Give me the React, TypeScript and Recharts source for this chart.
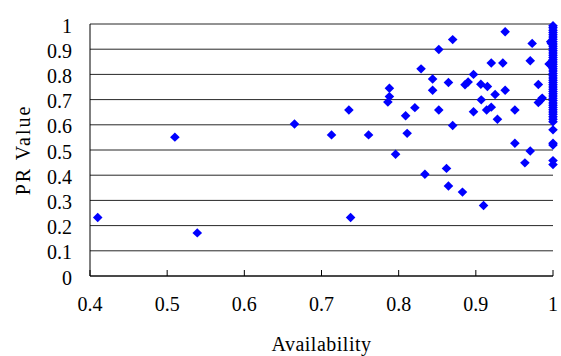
import React from 'react';
import { ScatterChart, Scatter, XAxis, YAxis, CartesianGrid, Label } from 'recharts';

const xTicks = [0.4, 0.5, 0.6, 0.7, 0.8, 0.9, 1];
const xTickLabels = ['0.4', '0.5', '0.6', '0.7', '0.8', '0.9', '1'];
const yTicks = [0, 0.1, 0.2, 0.3, 0.4, 0.5, 0.6, 0.7, 0.8, 0.9, 1];
const yTickLabels = ['0', '0.1', '0.2', '0.3', '0.4', '0.5', '0.6', '0.7', '0.8', '0.9', '1'];

const xTitle = 'Availability';
const yTitle = 'PR Value';

const availability = [
  0.41, 0.51, 0.539, 0.665, 0.713, 0.7355, 0.7377, 0.761, 0.788, 0.788,
  0.786, 0.796, 0.809, 0.811, 0.821, 0.829, 0.834, 0.844, 0.844, 0.852,
  0.852, 0.862, 0.8645, 0.8645, 0.87, 0.87, 0.8827, 0.886, 0.89, 0.897,
  0.897, 0.9065, 0.907, 0.91, 0.915, 0.914, 0.92, 0.92, 0.925, 0.928,
  0.935, 0.938, 0.938, 0.9506, 0.9506, 0.9636, 0.9705, 0.9705, 0.973, 0.981,
  0.981, 0.9835, 0.986, 0.995, 0.998, 0.997, 0.996,
  1, 1, 1, 1, 1, 1, 1, 1, 1, 1,
  1, 1, 1, 1, 1, 1, 1, 1, 1, 1,
  1, 1, 1, 1, 1, 1, 1, 1, 1, 1,
  1, 1, 1, 1, 1, 1, 1, 1, 1, 1,
  1, 1, 1, 1,
];

const prValue = [
  0.232, 0.551, 0.171, 0.603, 0.56, 0.659, 0.232, 0.56, 0.745, 0.712,
  0.69, 0.483, 0.636, 0.566, 0.668, 0.822, 0.404, 0.782, 0.737, 0.899,
  0.659, 0.427, 0.768, 0.357, 0.938, 0.597, 0.333, 0.759, 0.77, 0.8,
  0.652, 0.761, 0.699, 0.28, 0.752, 0.659, 0.67, 0.845, 0.72, 0.622,
  0.845, 0.969, 0.737, 0.659, 0.527, 0.449, 0.496, 0.854, 0.923, 0.76,
  0.688, 0.696, 0.706, 0.841, 0.923, 0.93, 0.84,
  0.993, 0.985, 0.975, 0.966, 0.957, 0.948, 0.939, 0.93, 0.921, 0.912,
  0.903, 0.894, 0.885, 0.876, 0.867, 0.858, 0.849, 0.84, 0.831, 0.822,
  0.813, 0.804, 0.795, 0.786, 0.777, 0.768, 0.759, 0.75, 0.741, 0.732,
  0.723, 0.714, 0.705, 0.696, 0.687, 0.678, 0.669, 0.66, 0.651, 0.642,
  0.632, 0.622, 0.612, 0.58,
];

const extraAvailability = [1, 1, 1, 1];
const extraPrValue = [0.527, 0.52, 0.458, 0.442];

const data = [
  ...availability.map((a, i) => ({ x: a, y: prValue[i] })),
  ...extraAvailability.map((a, i) => ({ x: a, y: extraPrValue[i] })),
];

const FONT = "'Liberation Serif', 'Times New Roman', 'DejaVu Serif', serif";
const textStyle = { fontFamily: FONT, fontSize: 20 };
const X_TICK_MARGIN = 20;

const Diamond = (props: any) => {
  const { cx, cy } = props;
  if (cx == null || cy == null) return null;
  const rx = 4.8;
  const ry = 4.7;
  return (
    <polygon
      points={`${cx},${cy - ry} ${cx + rx},${cy} ${cx},${cy + ry} ${cx - rx},${cy}`}
      fill="#0000FF"
    />
  );
};

const XTick = (props: any) => {
  const { x, y, payload } = props;
  const idx = xTicks.indexOf(payload.value);
  const label = idx >= 0 ? xTickLabels[idx] : String(payload.value);
  const axisY = y - X_TICK_MARGIN;
  return (
    <g>
      <line x1={x} x2={x} y1={axisY} y2={axisY - 6} stroke="#000" strokeWidth={1} />
      <text x={x} y={y + 14.5} textAnchor="middle" style={textStyle} fill="#000">
        {label}
      </text>
    </g>
  );
};

const YTick = (props: any) => {
  const { x, y, payload } = props;
  const idx = yTicks.indexOf(payload.value);
  const label = idx >= 0 ? yTickLabels[idx] : String(payload.value);
  return (
    <text x={x} y={y + 8.5} textAnchor="end" style={textStyle} fill="#000">
      {label}
    </text>
  );
};

export default function App() {
  return (
    <div style={{ position: 'absolute', left: 0, top: 0, background: '#fff', fontFamily: FONT }}>
      <ScatterChart width={561} height={356} margin={{ top: 24, right: 8, bottom: 0, left: 0 }}>
        <CartesianGrid vertical={false} stroke="#000" strokeWidth={1} strokeOpacity={0.85} />
        <XAxis
          type="number"
          dataKey="x"
          domain={[0.4, 1]}
          ticks={xTicks}
          interval={0}
          height={80}
          tickSize={0}
          tickMargin={X_TICK_MARGIN}
          tickLine={false}
          tick={<XTick />}
          axisLine={{ stroke: '#000', strokeWidth: 1 }}
        >
          <Label
            content={(p: any) => {
              const vb = p.viewBox || { x: 90, y: 276, width: 463, height: 80 };
              return (
                <text
                  x={vb.x + vb.width / 2}
                  y={vb.y + 75}
                  textAnchor="middle"
                  style={{ ...textStyle, letterSpacing: 0.5 }}
                  fill="#000"
                >
                  {xTitle}
                </text>
              );
            }}
          />
        </XAxis>
        <YAxis
          type="number"
          dataKey="y"
          domain={[0, 1]}
          ticks={yTicks}
          interval={0}
          width={90}
          tickSize={0}
          tickMargin={18}
          tickLine={false}
          tick={<YTick />}
          axisLine={{ stroke: '#000', strokeWidth: 1 }}
        >
          <Label
            content={(p: any) => {
              const vb = p.viewBox || { x: 0, y: 24, width: 90, height: 252 };
              const cx = vb.x + 30;
              const cy = vb.y + vb.height / 2;
              return (
                <text
                  x={cx}
                  y={cy}
                  transform={`rotate(-90 ${cx} ${cy})`}
                  textAnchor="middle"
                  style={{ ...textStyle, letterSpacing: 2 }}
                  fill="#000"
                >
                  {yTitle}
                </text>
              );
            }}
          />
        </YAxis>
        <Scatter data={data} shape={<Diamond />} isAnimationActive={false} />
      </ScatterChart>
    </div>
  );
}
